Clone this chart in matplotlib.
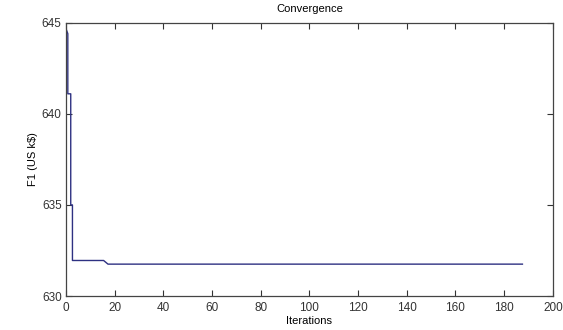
import numpy as np
import matplotlib
matplotlib.use("Agg")
import matplotlib.pyplot as plt

# convergence history
iterations = [0, 0.8, 0.8, 2.0, 2.0, 2.7, 2.7, 15.5, 17.3, 187.5]
cost = [644.7, 644.4, 641.1, 641.1, 635.0, 635.0, 631.95, 631.95, 631.75, 631.75]

xticks = np.arange(0, 201, 20)
yticks = [630, 635, 640, 645]

plt.rcParams['font.family'] = ['Liberation Sans', 'DejaVu Sans']

fig = plt.figure(figsize=(5.63, 3.30), dpi=100)
ax = fig.add_axes([0.117, 0.103, 0.865, 0.828])

ax.plot(iterations, cost, color='#2e3182', linewidth=1.0)

ax.set_xlim(0, 200)
ax.set_ylim(630, 645)
ax.set_xticks(xticks)
ax.set_yticks(yticks)
ax.tick_params(direction='in', top=True, right=True, length=4, width=0.8,
               labelsize=8.5, colors='#333333')
ax.tick_params(axis='x', pad=4)
ax.tick_params(axis='y', pad=3)
for s in ax.spines.values():
    s.set_color('#444444')
    s.set_linewidth(0.9)

ax.set_title('Convergence', fontsize=8, pad=8)
ax.set_xlabel('Iterations', fontsize=8, labelpad=2)
ax.set_ylabel('F1 (US k$)', fontsize=8, labelpad=3)

fig.savefig('out.png', dpi=100)
